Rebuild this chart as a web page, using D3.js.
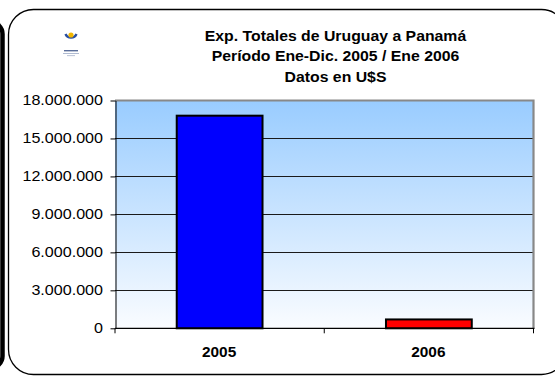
<!DOCTYPE html>
<html>
<head>
<meta charset="utf-8">
<script src="https://cdn.jsdelivr.net/npm/d3@7"></script>
<style>
  html, body { margin: 0; padding: 0; background: #fff; }
  svg { display: block; }
  text { font-family: Arial, "Liberation Sans", sans-serif; fill: #000; }
</style>
</head>
<body>
<svg id="chart" width="555" height="376"></svg>
<script>
// ---- data ----
const titleLines = ["Exp. Totales de Uruguay a Panamá", "Período Ene-Dic. 2005 / Ene 2006", "Datos en U$S"];
const categories = ["2005", "2006"];
const values = [16800000, 700000];
const barColors = ["#0000FF", "#FF0000"];
const yTickValues = [0, 3000000, 6000000, 9000000, 12000000, 15000000, 18000000];

// ---- layout ----
const W = 555, H = 376;
const plot = { left: 115, right: 533.5, top: 100.5, bottom: 328.3 };

const svg = d3.select("#chart");
const defs = svg.append("defs");
const grad = defs.append("linearGradient").attr("id", "bg").attr("x1", 0).attr("y1", 0).attr("x2", 0).attr("y2", 1);
grad.append("stop").attr("offset", "0%").attr("stop-color", "#99CCFF");
grad.append("stop").attr("offset", "100%").attr("stop-color", "#FAFCFF");

// frames
svg.append("rect").attr("x", -40).attr("y", 22).attr("width", 42.5).attr("height", 346).attr("rx", 12)
  .attr("fill", "none").attr("stroke", "#000").attr("stroke-width", 4.5);
svg.append("rect").attr("x", 8.5).attr("y", 9.5).attr("width", 558).attr("height", 365).attr("rx", 25)
  .attr("fill", "#fff").attr("stroke", "#000").attr("stroke-width", 1.3);

// logo (decorative)
const logo = svg.append("g").attr("transform", "translate(71,39)");
logo.append("path").attr("d", "M-5.5,-5 A6,6 0 0 0 5.5,-5").attr("fill", "none").attr("stroke", "#2A4FA0").attr("stroke-width", 2.4);
logo.append("circle").attr("cx", 0).attr("cy", -4).attr("r", 2.6).attr("fill", "#F2B600");
logo.append("rect").attr("x", -7).attr("y", 11).attr("width", 14).attr("height", 1.4).attr("fill", "#5A6E9A");
logo.append("rect").attr("x", -8).attr("y", 14).attr("width", 16).attr("height", 0.9).attr("fill", "#A8B4CC");
logo.append("rect").attr("x", -4).attr("y", 16.3).attr("width", 8).attr("height", 0.8).attr("fill", "#A8B4CC");

// title
const titleY = [40.5, 61, 81.5];
titleLines.forEach((t, i) => {
  svg.append("text")
    .attr("transform", `translate(335.5,${titleY[i]}) scale(1.13,1)`)
    .attr("text-anchor", "middle")
    .attr("font-size", "14px").attr("font-weight", "bold")
    .text(t);
});

// scales
const y = d3.scaleLinear().domain([0, 18000000]).range([plot.bottom, plot.top]);
const x = d3.scaleBand().domain(categories).range([plot.left, plot.right]).paddingInner(0.59).paddingOuter(0.295);
const xb = d3.scaleBand().domain(categories).range([plot.left, plot.right]);

const locale = d3.formatLocale({ decimal: ",", thousands: ".", grouping: [3], currency: ["", ""] });
const fmt = locale.format(",");

// plot background
svg.append("rect").attr("x", plot.left).attr("y", plot.top)
  .attr("width", plot.right - plot.left).attr("height", plot.bottom - plot.top)
  .attr("fill", "url(#bg)");

// gridlines
svg.append("g").selectAll("line").data(yTickValues.filter(v => v > 0 && v < 18000000)).join("line")
  .attr("x1", plot.left).attr("x2", plot.right)
  .attr("y1", d => Math.round(y(d)) + 0.5).attr("y2", d => Math.round(y(d)) + 0.5)
  .attr("stroke", "#1a1a1a").attr("stroke-width", 1);

// plot border (top/right gray)
svg.append("path")
  .attr("d", `M${plot.left},${plot.top} H${plot.right} V${plot.bottom}`)
  .attr("fill", "none").attr("stroke", "#888").attr("stroke-width", 2.2);

// bars
svg.append("g").selectAll("rect").data(values).join("rect")
  .attr("x", (d, i) => x(categories[i]))
  .attr("y", d => y(d))
  .attr("width", x.bandwidth())
  .attr("height", d => plot.bottom - y(d))
  .attr("fill", (d, i) => barColors[i])
  .attr("stroke", "#000").attr("stroke-width", 2);

// y axis
const yAxis = svg.append("g").attr("transform", `translate(${plot.left + 0.5},0)`)
  .call(d3.axisLeft(y).tickValues(yTickValues).tickFormat(fmt).tickSize(5).tickSizeOuter(0));
yAxis.select(".domain").attr("stroke", "#000");
yAxis.selectAll(".tick line").attr("stroke", "#000");
yAxis.selectAll(".tick text")
  .attr("x", null)
  .attr("transform", "translate(-12.5,0) scale(1.15,1)")
  .attr("font-size", "14px")
  .attr("font-family", "Arial, 'Liberation Sans', sans-serif")
  .attr("fill", "#000");

// x axis
const xAxisG = svg.append("g").attr("transform", `translate(0,${plot.bottom})`);
xAxisG.append("line").attr("x1", plot.left).attr("x2", plot.right + 1).attr("y1", 0).attr("y2", 0)
  .attr("stroke", "#000").attr("stroke-width", 1.3);
const xTicks = [plot.left, ...categories.map(c => xb(c) + xb.bandwidth())];
xAxisG.selectAll("line.xt").data(xTicks).join("line").attr("class", "xt")
  .attr("x1", d => d).attr("x2", d => d).attr("y1", 0).attr("y2", 5)
  .attr("stroke", "#000").attr("stroke-width", 1);
xAxisG.selectAll("text").data(categories).join("text")
  .attr("transform", d => `translate(${xb(d) + xb.bandwidth() / 2 - 0.5},29) scale(1.1,1)`)
  .attr("text-anchor", "middle")
  .attr("font-size", "14px").attr("font-weight", "bold")
  .text(d => d);
</script>
</body>
</html>
